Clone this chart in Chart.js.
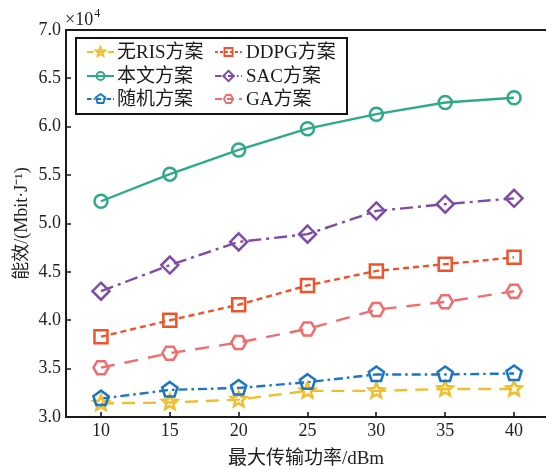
<!DOCTYPE html>
<html>
<head>
<meta charset="utf-8">
<script src="https://cdn.jsdelivr.net/npm/chart.js@4/dist/chart.umd.min.js"></script>
<style>
  html, body { margin: 0; padding: 0; background: #fff; }
  #wrap { width: 546px; height: 470px; position: relative; }
</style>
</head>
<body>
<div id="wrap"><canvas id="c" width="546" height="470"></canvas></div>
<script>
// Energy efficiency (x10^4 Mbit/J) versus maximum transmit power (dBm)
const powerDbm = [10, 15, 20, 25, 30, 35, 40];
const yTickValues = [3.0, 3.5, 4.0, 4.5, 5.0, 5.5, 6.0, 6.5, 7.0];

const noRisScheme   = [3.14, 3.15, 3.18, 3.27, 3.27, 3.29, 3.29];
const proposed      = [5.23, 5.51, 5.76, 5.98, 6.13, 6.25, 6.30];
const randomScheme  = [3.19, 3.28, 3.30, 3.36, 3.44, 3.44, 3.45];
const ddpgScheme    = [3.83, 4.00, 4.16, 4.36, 4.51, 4.58, 4.65];
const sacScheme     = [4.30, 4.57, 4.81, 4.89, 5.13, 5.20, 5.26];
const gaScheme      = [3.51, 3.66, 3.77, 3.91, 4.11, 4.19, 4.30];

const seriesNames = ['无RIS方案', '本文方案', '随机方案', 'DDPG方案', 'SAC方案', 'GA方案'];

const SERIF = "'Liberation Serif', 'Noto Sans CJK SC', serif";
const AXIS_COLOR = '#1a1a1a';

const styles = [
  { color: '#F0BE2C', dash: [13, 8],          marker: 'star' },
  { color: '#2FA98C', dash: [],               marker: 'circle' },
  { color: '#1B76C4', dash: [9, 4, 2.5, 4],   marker: 'pentagon' },
  { color: '#F0532B', dash: [6, 4],           marker: 'square' },
  { color: '#7E4CA7', dash: [13, 5, 3, 5],    marker: 'diamond' },
  { color: '#F06C6E', dash: [14, 10],         marker: 'hexagon' }
];
const seriesValues = [noRisScheme, proposed, randomScheme, ddpgScheme, sacScheme, gaScheme];

function polygonPath(ctx, x, y, r, n, startAngle) {
  for (let i = 0; i < n; i++) {
    const a = startAngle + i * 2 * Math.PI / n;
    const px = x + r * Math.cos(a), py = y + r * Math.sin(a);
    if (i === 0) ctx.moveTo(px, py); else ctx.lineTo(px, py);
  }
  ctx.closePath();
}

function drawMarker(ctx, shape, x, y, color, s) {
  ctx.save();
  ctx.strokeStyle = color;
  ctx.lineWidth = 2.5 * Math.max(s, 0.75);
  ctx.setLineDash([]);
  ctx.lineJoin = 'miter';
  ctx.beginPath();
  switch (shape) {
    case 'circle':
      ctx.arc(x, y, 6.5 * s, 0, Math.PI * 2);
      break;
    case 'square':
      ctx.rect(x - 6.5 * s, y - 6.5 * s, 13 * s, 13 * s);
      break;
    case 'diamond':
      polygonPath(ctx, x, y, 8.5 * s, 4, -Math.PI / 2);
      break;
    case 'pentagon':
      polygonPath(ctx, x, y, 8 * s, 5, -Math.PI / 2);
      break;
    case 'hexagon':
      polygonPath(ctx, x, y, 7.5 * s, 6, 0);
      break;
    case 'star': {
      const R = 8 * s, r = 3.6 * s;
      for (let i = 0; i < 10; i++) {
        const a = -Math.PI / 2 + i * Math.PI / 5;
        const rad = i % 2 === 0 ? R : r;
        const px = x + rad * Math.cos(a), py = y + rad * Math.sin(a);
        if (i === 0) ctx.moveTo(px, py); else ctx.lineTo(px, py);
      }
      ctx.closePath();
      break;
    }
  }
  ctx.stroke();
  ctx.restore();
}

const datasets = seriesValues.map((vals, i) => ({
  label: seriesNames[i],
  data: powerDbm.map((p, j) => ({ x: p, y: vals[j] })),
  borderColor: styles[i].color,
  backgroundColor: styles[i].color,
  borderWidth: 2.4,
  borderDash: styles[i].dash,
  pointRadius: 0,
  pointHoverRadius: 0,
  tension: 0,
  clip: false
}));

// Frame, inward ticks, exponent label, markers and the two-column legend
const decorations = {
  id: 'decorations',
  afterDatasetsDraw(chart) {
    const ctx = chart.ctx;
    chart.data.datasets.forEach((ds, i) => {
      const meta = chart.getDatasetMeta(i);
      meta.data.forEach(pt => drawMarker(ctx, styles[i].marker, pt.x, pt.y, styles[i].color, 1));
    });
  },
  afterDraw(chart) {
    const ctx = chart.ctx;
    const { left, right, top, bottom } = chart.chartArea;
    const xs = chart.scales.x, ys = chart.scales.y;
    ctx.save();
    ctx.strokeStyle = AXIS_COLOR;
    ctx.lineWidth = 2;
    ctx.setLineDash([]);
    ctx.beginPath();
    ctx.moveTo(chart.width, top);
    ctx.lineTo(left, top);
    ctx.lineTo(left, bottom);
    ctx.lineTo(chart.width, bottom);
    ctx.stroke();

    ctx.lineWidth = 1.6;
    ctx.beginPath();
    yTickValues.forEach(v => {
      const py = Math.round(ys.getPixelForValue(v));
      ctx.moveTo(left, py); ctx.lineTo(left + 5, py);
    });
    powerDbm.forEach(v => {
      const px = Math.round(xs.getPixelForValue(v));
      ctx.moveTo(px, bottom); ctx.lineTo(px, bottom - 5);
    });
    ctx.stroke();

    // exponent label
    ctx.fillStyle = '#222';
    ctx.textBaseline = 'alphabetic';
    ctx.textAlign = 'left';
    ctx.font = `18px ${SERIF}`;
    ctx.fillText('×10', left - 1, 25);
    const w = ctx.measureText('×10').width;
    ctx.font = `12px ${SERIF}`;
    ctx.fillText('4', left - 1 + w + 1, 17);

    // legend
    const box = { x: 76, y: 38, w: 271, h: 76 };
    ctx.fillStyle = '#fff';
    ctx.fillRect(box.x, box.y, box.w, box.h);
    ctx.strokeStyle = '#111';
    ctx.lineWidth = 2;
    ctx.strokeRect(box.x, box.y, box.w, box.h);
    const cols = [{ x0: 87, x1: 114, tx: 117 }, { x0: 215, x1: 242, tx: 246 }];
    const rows = [52, 76, 99];
    ctx.font = `19px ${SERIF}`;
    ctx.textBaseline = 'middle';
    ctx.fillStyle = '#1a1a1a';
    seriesNames.forEach((name, i) => {
      const c = cols[Math.floor(i / 3)], r = rows[i % 3];
      const st = styles[i];
      ctx.save();
      ctx.strokeStyle = st.color;
      ctx.lineWidth = 2;
      ctx.setLineDash(st.dash.length ? st.dash.map(d => d * 0.5) : []);
      ctx.beginPath();
      ctx.moveTo(c.x0, r); ctx.lineTo(c.x1, r);
      ctx.stroke();
      ctx.restore();
      drawMarker(ctx, st.marker, (c.x0 + c.x1) / 2, r, st.color, 0.62);
      ctx.fillText(name, c.tx, r + 1);
    });
    ctx.restore();
  }
};

new Chart(document.getElementById('c'), {
  type: 'line',
  data: { datasets },
  options: {
    responsive: false,
    animation: false,
    events: [],
    layout: { padding: { top: 30, right: 0, left: 0, bottom: 0 } },
    plugins: { legend: { display: false }, tooltip: { enabled: false } },
    scales: {
      x: {
        type: 'linear',
        min: 7.46,
        max: 42.32,
        afterBuildTicks: s => { s.ticks = powerDbm.map(v => ({ value: v })); },
        afterFit: s => { s.height = 53; },
        grid: { display: false, drawTicks: false },
        border: { display: false },
        ticks: { color: '#222', font: { family: SERIF, size: 18 }, padding: 3, maxRotation: 0, autoSkip: false },
        title: { display: true, text: '最大传输功率/dBm', color: '#222', font: { family: SERIF, size: 19 }, padding: { top: 0, bottom: 0 } }
      },
      y: {
        type: 'linear',
        min: 3,
        max: 7,
        afterBuildTicks: s => { s.ticks = yTickValues.map(v => ({ value: v })); },
        afterFit: s => { s.width = 66; },
        grid: { display: false, drawTicks: false },
        border: { display: false },
        ticks: { color: '#222', font: { family: SERIF, size: 18 }, padding: 5, callback: v => Number(v).toFixed(1) },
        title: { display: true, text: '能效/(Mbit·J⁻¹)', color: '#222', font: { family: SERIF, size: 18 }, padding: { top: 11, bottom: 0 } }
      }
    }
  },
  plugins: [decorations]
});
</script>
</body>
</html>
